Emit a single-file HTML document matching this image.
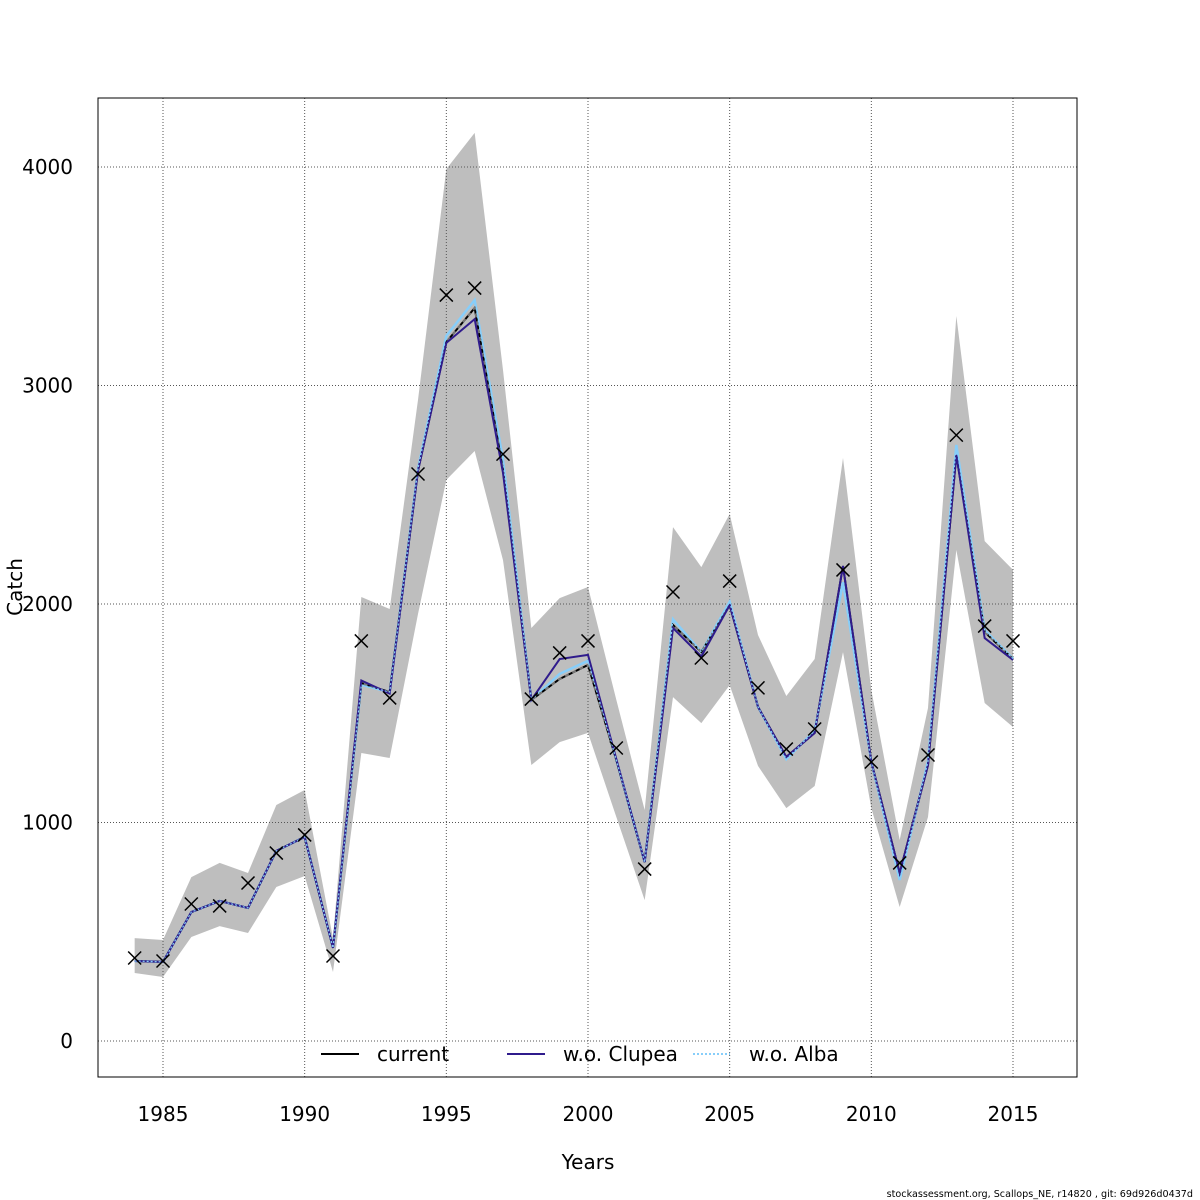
<!DOCTYPE html>
<html><head><meta charset="utf-8"><style>
html,body{margin:0;padding:0;background:#fff;}
svg{display:block;font-family:"DejaVu Sans","Liberation Sans",sans-serif;}
</style></head><body>
<svg id="chart" width="1200" height="1200" viewBox="0 0 1200 1200">
<rect width="1200" height="1200" fill="#fff"/>
<g id="band"></g><g id="grid"></g><g id="lines"></g><g id="marks"></g><g id="axes"></g>
</svg>
<script>
const years = [1984,1985,1986,1987,1988,1989,1990,1991,1992,1993,1994,1995,1996,1997,1998,1999,2000,2001,2002,2003,2004,2005,2006,2007,2008,2009,2010,2011,2012,2013,2014,2015];
const observed = [380,366,627,618,723,860,943,389,1831,1570,2595,3414,3446,2686,1565,1776,1831,1341,787,2055,1753,2105,1616,1336,1428,2156,1277,815,1309,2773,1899,1831];
const current = [366,362,590,641,609,870,934,426,1638,1597,2610,3199,3355,2613,1561,1657,1721,1286,819,1904,1780,1995,1529,1300,1410,2174,1277,769,1263,2682,1872,1748];
const clupea = [366,362,590,641,609,870,934,426,1650,1590,2610,3195,3304,2600,1561,1748,1767,1290,819,1890,1760,1995,1529,1300,1410,2174,1277,769,1263,2682,1844,1744];
const alba = [366,362,590,641,609,870,934,426,1630,1597,2620,3227,3391,2660,1561,1680,1740,1286,819,1930,1780,2010,1529,1290,1420,2100,1277,737,1280,2728,1880,1750];
const upper = [471,462,750,815,769,1080,1149,470,2032,1977,2934,3991,4156,3071,1890,2027,2078,1561,1057,2352,2169,2412,1858,1579,1748,2668,1606,920,1524,3318,2288,2156];
const lower = [311,293,476,526,494,705,755,316,1318,1295,1954,2568,2700,2201,1263,1368,1410,1025,645,1574,1455,1629,1259,1066,1167,1780,1066,613,1025,2247,1547,1437];
const xTicks = [1985,1990,1995,2000,2005,2010,2015];
const yTicks = [0,1000,2000,3000,4000];

const NS='http://www.w3.org/2000/svg';
const X = v => 163 + (v-1985)*(850/30);
const Y = v => 1041 - v*0.2185;
function mk(tag, attrs, parent){const e=document.createElementNS(NS,tag);for(const k in attrs)e.setAttribute(k,attrs[k]);document.getElementById(parent).appendChild(e);return e;}

let pts = years.map((y,i)=>X(y)+','+Y(upper[i]));
for(let i=years.length-1;i>=0;i--) pts.push(X(years[i])+','+Y(lower[i]));
const band = mk('polygon',{points:pts.join(' '),fill:'#bebebe',stroke:'none'},'band');



xTicks.forEach(t=>{const l=mk('line',{x1:X(t),x2:X(t),y1:98,y2:1077,stroke:'#555','stroke-width':1,'stroke-dasharray':'1,2'},'grid');

});
yTicks.forEach(t=>{const l=mk('line',{x1:98,x2:1077,y1:Y(t),y2:Y(t),stroke:'#555','stroke-width':1,'stroke-dasharray':'1,2'},'grid');

});

function series(arr, color, w, dash, name){
  const p = mk('polyline',{points:years.map((y,i)=>X(y)+','+Y(arr[i])).join(' '),fill:'none',stroke:color,'stroke-width':w,'stroke-dasharray':dash||'none'},'lines');
  
  
}
series(alba,'#87cefa',2.5,null,'alba-line');
series(current,'#000',2,null,'current-line');
series(current,'#777',2,'4,4','current-line-dash');
series(clupea,'#2f1b8c',2,null,'clupea-line');
series(alba,'#87cefa',1.2,'2,2','alba-line-dotted');

years.forEach((y,i)=>{const cx=X(y),cy=Y(observed[i]),s=6.5;
  const g=mk('path',{d:`M${cx-s},${cy-s}L${cx+s},${cy+s}M${cx-s},${cy+s}L${cx+s},${cy-s}`,stroke:'#000','stroke-width':1.5,fill:'none'},'marks');
  
  
});

const box=mk('rect',{x:98,y:98,width:979,height:979,fill:'none',stroke:'#000','stroke-width':1},'axes');


xTicks.forEach(t=>{const tx=mk('text',{x:X(t),y:1121,'text-anchor':'middle','font-size':20},'axes');tx.textContent=t;
  
  });
yTicks.forEach(t=>{const tx=mk('text',{x:73,y:Y(t)+7,'text-anchor':'end','font-size':20},'axes');tx.textContent=t;
  
  });
let t=mk('text',{x:588,y:1169,'text-anchor':'middle','font-size':20},'axes');t.textContent='Years';


t=mk('text',{x:0,y:0,'text-anchor':'middle','font-size':20,transform:'translate(22,587) rotate(-90)'},'axes');t.textContent='Catch';


t=mk('text',{x:1193,y:1197,'text-anchor':'end','font-size':9.6},'axes');t.textContent='stockassessment.org, Scallops_NE, r14820 , git: 69d926d0437d';



const leg=[['current','#000',321,38,377,null],['w.o. Clupea','#2f1b8c',507,38,563,null],['w.o. Alba','#87cefa',693,37,749,'2,2']];
leg.forEach(([lab,c,lx,lw,tx,d])=>{
  const l=mk('line',{x1:lx,x2:lx+lw,y1:1054,y2:1054,stroke:c,'stroke-width':2,'stroke-dasharray':d||'none'},'axes');
  
  
  const tt=mk('text',{x:tx,y:1061,'font-size':20},'axes');tt.textContent=lab;
  
  
});
</script>
</body></html>
